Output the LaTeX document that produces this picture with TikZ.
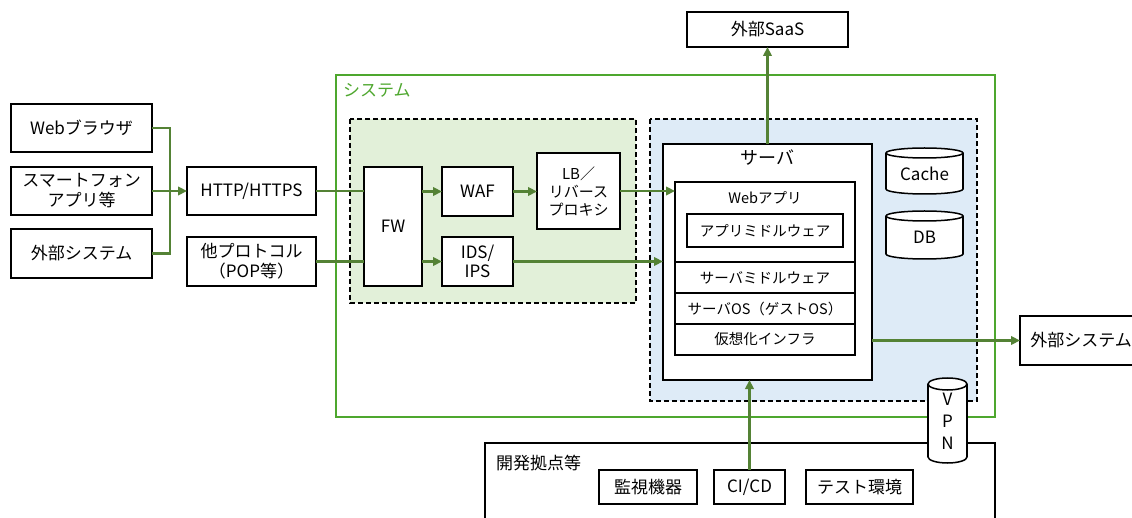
\documentclass[tikz,border=0pt]{standalone}
\usepackage{fontspec}
\setmainfont{Noto Sans CJK JP}
\usetikzlibrary{arrows.meta}
\definecolor{lnk}{HTML}{548235}
\definecolor{sysg}{HTML}{4EA72E}
\definecolor{fillg}{HTML}{E2F0D9}
\definecolor{fillb}{HTML}{DEEBF7}
\newcommand\cylpic[5]{%
  \pgfmathsetmacro\cylcx{(#1+#3)/2}%
  \pgfmathsetmacro\cylrx{(#3-#1)/2}%
  \draw[cyl] (\cylcx,#4-#5) ellipse [x radius=\cylrx, y radius=#5];
  \fill[white] (#1,#2+#5) rectangle (#3,#4-#5);
  \draw[cylline] (#1,#2+#5) -- (#1,#4-#5) (#3,#2+#5) -- (#3,#4-#5);
  \draw[cyl] (\cylcx,#2+#5) ellipse [x radius=\cylrx, y radius=#5];}
\begin{document}
\begin{tikzpicture}[x=1pt,y=-1pt,
  box/.style={draw=black,line width=1.5pt,fill=white,inner sep=0pt,outer sep=0pt,align=center,font=\fontsize{17}{20}\selectfont},
  wh/.style 2 args={minimum width=#1pt,minimum height=#2pt},
  small/.style={font=\fontsize{14.5}{17}\selectfont},
  txt/.style={inner sep=0pt,font=\fontsize{17}{20}\selectfont,align=center},
  link/.style={draw=lnk,line width=2.2pt},
  arr/.style={link,-{Triangle[length=9pt,width=8.5pt]}},
  zone/.style={draw=black,line width=1.4pt,dash pattern=on 5pt off 3pt},
  cyl/.style={draw=black,line width=1.5pt,fill=white},
  cylline/.style={draw=black,line width=1.5pt}]
\path[use as bounding box] (0,0) rectangle (1132,518);
\clip (0,0) rectangle (1132,518);
\fill[white] (0,0) rectangle (1132,518);

% zones
\draw[zone,fill=fillg] (350,119) rectangle (636,303);
\draw[zone,fill=fillb] (650,119) rectangle (977,401);
\draw[sysg,line width=1.5pt] (336,75) rectangle (995,417);
\node[txt,text=sysg,anchor=west] (sysT) at (343,90) {システム};
\draw[black,line width=1.5pt] (485,443) rectangle (995,540);
\node[txt,anchor=west] (devT) at (496,463) {開発拠点等};

% left side
\node[box,wh={141}{48}] (web) at (81.5,128) {Webブラウザ};
\node[box,wh={141}{48}] (smart) at (81.5,191) {スマートフォン\\アプリ等};
\node[box,wh={141}{49}] (extL) at (81.5,253.5) {外部システム};
\node[box,wh={129}{48}] (http) at (251.5,191) {HTTP/HTTPS};
\node[box,wh={129}{49}] (other) at (251.5,261.5) {他プロトコル\\（POP等）};

% security zone
\node[box,wh={58}{119}] (fw) at (393,226.5) {FW};
\node[box,wh={71}{49}] (waf) at (477.5,191.5) {WAF};
\node[box,wh={83}{76},font=\fontsize{15}{18}\selectfont] (lb) at (578.5,191) {LB／\\リバース\\プロキシ};
\node[box,wh={71}{49},font=\fontsize{17}{19}\selectfont] (ids) at (477.5,261.5) {IDS/\\IPS};

% server
\node[box,wh={209}{236}] (server) at (767.5,262) {};
\node[txt,font=\fontsize{18}{20}\selectfont] (serverT) at (767.5,158) {サーバ};
\node[box,wh={180}{80}] (webapp) at (765,222) {};
\node[txt,small] (webappT) at (765,198) {Webアプリ};
\node[box,wh={156}{33},small] (appmw) at (765,230.5) {アプリミドルウェア};
\node[box,wh={180}{31},small] (srvmw) at (765,277.5) {サーバミドルウェア};
\node[box,wh={180}{31},small] (os) at (765,308.5) {サーバOS（ゲストOS）};
\node[box,wh={180}{31},small] (virt) at (765,339.5) {仮想化インフラ};

% databases
\cylpic{886}{148}{963}{194}{5}
\node[txt] (cacheT) at (924.5,174) {Cache};
\cylpic{886}{211}{963}{259}{5}
\node[txt] (dbT) at (924.5,237) {DB};

% external
\node[box,wh={161}{35}] (saas) at (767.5,29.5) {外部SaaS};
\node[box,wh={122}{49}] (extR) at (1081,340.5) {外部システム};

% dev site
\node[box,wh={98}{34}] (mon) at (648,487) {監視機器};
\node[box,wh={71}{34}] (cicd) at (749.5,487) {CI/CD};
\node[box,wh={107}{34}] (test) at (859.5,487) {テスト環境};

% VPN
\cylpic{928}{378}{967}{463}{6}
\node[txt,font=\fontsize{17}{22}\selectfont] (vpnT) at (947.5,421) {V\\P\\N};

% connectors
\coordinate (j) at (170,191);
\draw[link] (web.east) -| (j);
\draw[link] (extL.east) -| (j);
\draw[arr] (smart.east) -- (http.west);
\draw[link] (http.east) -- (http.east -| fw.west);
\draw[link] (other.east) -- (other.east -| fw.west);
\draw[arr] (waf.west -| fw.east) -- (waf.west);
\draw[arr] (ids.west -| fw.east) -- (ids.west);
\draw[arr] (waf.east) -- (waf.east -| lb.west);
\draw[arr] (lb.east) -- (lb.east -| webapp.west);
\draw[arr] (ids.east) -- (ids.east -| server.west);
\draw[arr] (extR.west -| server.east) -- (extR.west);
\draw[arr] (server.north) -- (saas.south);
\draw[arr] (cicd.north) -- (cicd.north |- server.south);
\end{tikzpicture}
\end{document}
